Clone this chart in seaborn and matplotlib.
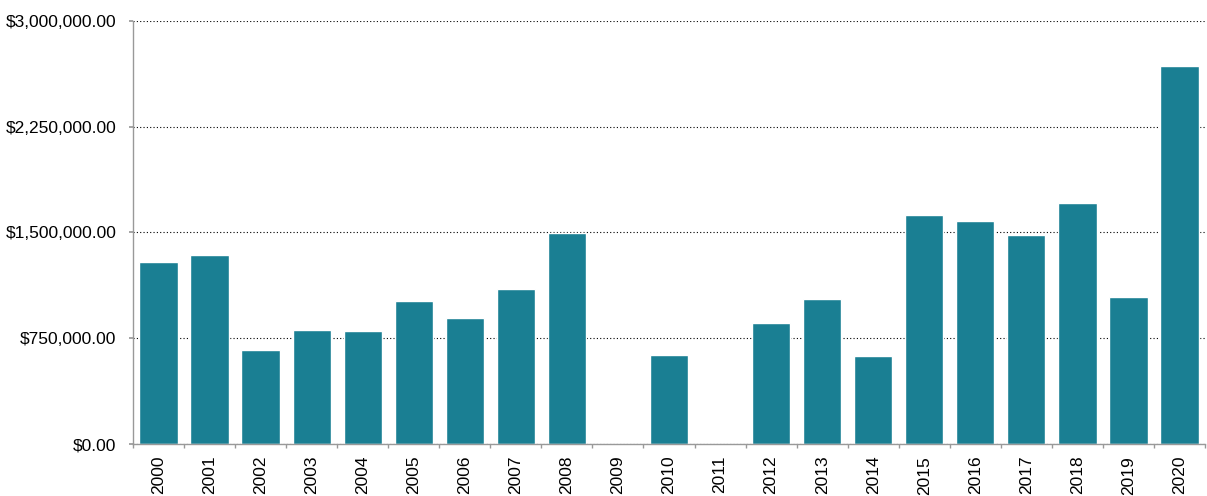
import numpy as np
import pandas as pd
import seaborn as sns
from matplotlib import pyplot as plt
from matplotlib.ticker import FuncFormatter, FixedLocator

years = [str(y) for y in range(2000, 2021)]
amounts = [1291000, 1340000, 667000, 808000, 801000, 1014000, 894000, 1099000,
           1496000, 0, 631000, 0, 858000, 1028000, 624000, 1624000, 1582000,
           1482000, 1709000, 1043000, 2681000]
y_ticks = [0, 750000, 1500000, 2250000, 3000000]

bar_color = "#1a7f93"


def main():
    sns.set_theme(style="white")
    plt.rcParams["font.family"] = ["Liberation Sans", "DejaVu Sans"]

    df = pd.DataFrame({"year": years, "amount": amounts})

    fig = plt.figure(figsize=(12.07, 4.96), dpi=100)
    ax = fig.add_axes([133 / 1207, 1 - 444 / 496, (1205 - 133) / 1207, (444 - 21) / 496])
    sns.barplot(data=df, x="year", y="amount", color=bar_color, saturation=1,
                width=0.75, ax=ax, zorder=2)

    ax.set_ylim(0, 3000000)
    ax.set_xlim(-0.5, len(years) - 0.5)
    ax.set_yticks(y_ticks)
    ax.yaxis.set_major_formatter(FuncFormatter(lambda v, _: f"${v:,.2f}"))
    ax.grid(axis="y", color="black", linestyle=(0, (1, 2)), linewidth=0.8, zorder=0)
    ax.set_axisbelow(True)

    for side in ["top", "right"]:
        ax.spines[side].set_visible(False)
    for side in ["left", "bottom"]:
        ax.spines[side].set_color("#999999")
        ax.spines[side].set_linewidth(1)

    ax.tick_params(axis="y", which="major", left=True, length=3, color="#999999",
                   labelsize=12.5, pad=9, labelcolor="black")
    ax.tick_params(axis="x", which="major", bottom=False, labelsize=12.5,
                   labelrotation=90, pad=2.5, labelcolor="black")
    ax.xaxis.set_minor_locator(FixedLocator(np.arange(-0.5, len(years), 1.0)))
    ax.tick_params(axis="x", which="minor", bottom=True, length=3, color="#999999")

    ax.set_xlabel("")
    ax.set_ylabel("")
    fig.savefig("out.png", dpi=100)


if __name__ == "__main__":
    main()
